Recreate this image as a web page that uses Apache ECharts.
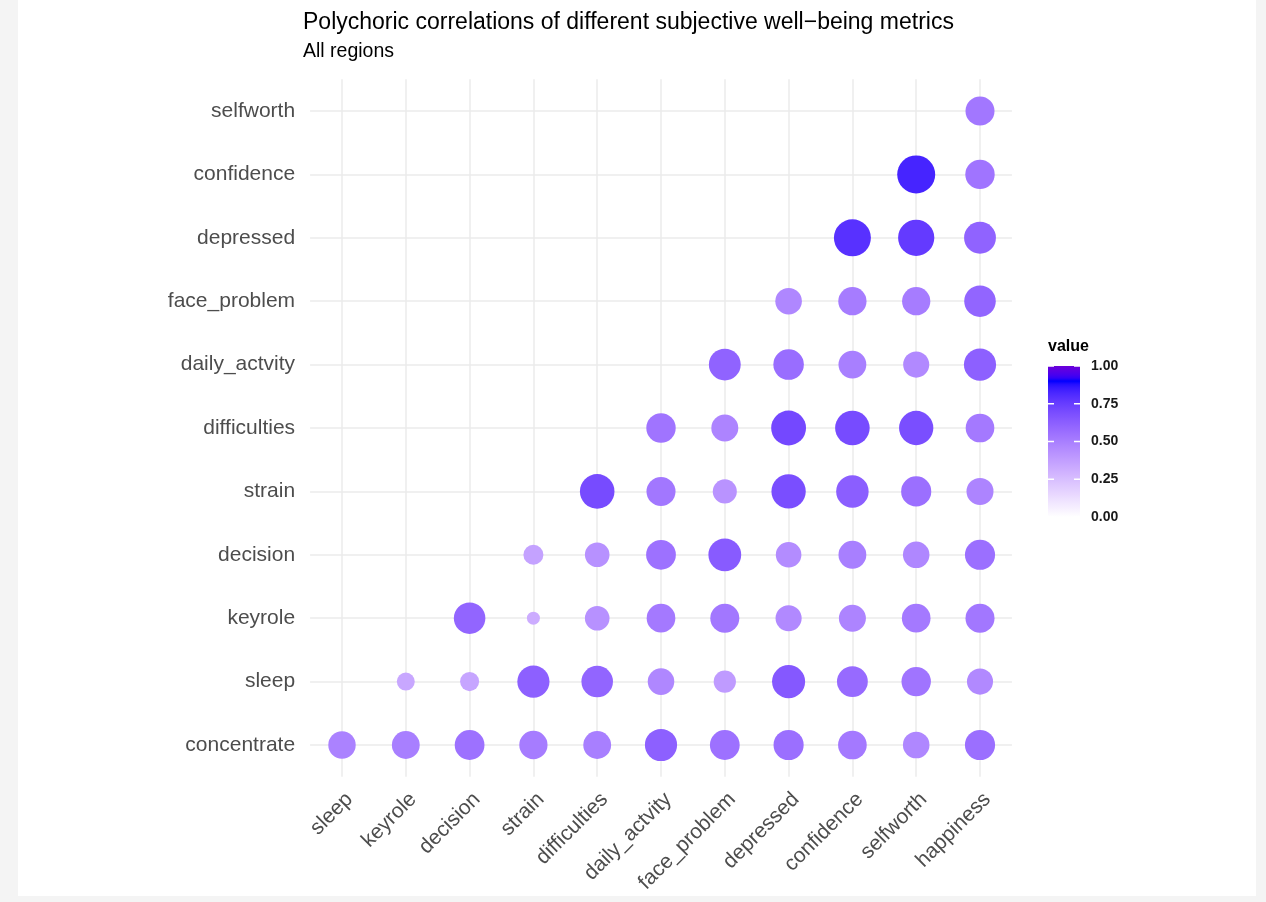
<!DOCTYPE html>
<html>
<head>
<meta charset="utf-8">
<title>Polychoric correlations</title>
<script src="https://cdn.jsdelivr.net/npm/echarts/dist/echarts.min.js"></script>
<style>
  html, body { margin: 0; padding: 0; background: #F4F4F4; }
  #frame { position: absolute; left: 18px; top: 0; width: 1238px; height: 896px; background: #FFFFFF; }
  #chart { position: absolute; left: 0; top: 0; width: 1266px; height: 902px; }
</style>
</head>
<body>
<div id="frame"></div>
<div id="chart"></div>
<script>
// Metric names along each axis (y listed bottom to top)
const xLabels = ['sleep', 'keyrole', 'decision', 'strain', 'difficulties', 'daily_actvity',
                 'face_problem', 'depressed', 'confidence', 'selfworth', 'happiness'];
const yLabels = ['concentrate', 'sleep', 'keyrole', 'decision', 'strain', 'difficulties',
                 'daily_actvity', 'face_problem', 'depressed', 'confidence', 'selfworth'];

// Correlations per row; row i starts at column i of xLabels
const rowConcentrate  = [0.49, 0.50, 0.55, 0.51, 0.50, 0.62, 0.55, 0.56, 0.52, 0.47, 0.56];
const rowSleep        = [0.34, 0.35, 0.62, 0.60, 0.47, 0.39, 0.65, 0.58, 0.54, 0.46];
const rowKeyrole      = [0.60, 0.32, 0.43, 0.52, 0.53, 0.46, 0.48, 0.52, 0.53];
const rowDecision     = [0.36, 0.43, 0.55, 0.64, 0.45, 0.50, 0.47, 0.56];
const rowStrain       = [0.70, 0.53, 0.42, 0.69, 0.63, 0.56, 0.48];
const rowDifficulties = [0.54, 0.48, 0.71, 0.70, 0.69, 0.52];
const rowDailyActvity = [0.61, 0.57, 0.50, 0.46, 0.62];
const rowFaceProblem  = [0.47, 0.51, 0.51, 0.60];
const rowDepressed    = [0.79, 0.76, 0.61];
const rowConfidence   = [0.83, 0.54];
const rowSelfworth    = [0.53];

const legendTicks = [0, 0.25, 0.5, 0.75, 1];

const rows = [rowConcentrate, rowSleep, rowKeyrole, rowDecision, rowStrain, rowDifficulties,
              rowDailyActvity, rowFaceProblem, rowDepressed, rowConfidence, rowSelfworth];

const points = [];
rows.forEach(function (vals, yi) {
  vals.forEach(function (v, k) { points.push([yi + k, yi, v]); });
});

// ---- colour scale: white -> blue -> purple, interpolated in CIE Lab ----
const colourAnchors = [[0, '#FFFFFF'], [0.9, '#0000FF'], [1, '#6A00D8']];

function toLin(c) { c /= 255; return c <= 0.04045 ? c / 12.92 : Math.pow((c + 0.055) / 1.055, 2.4); }
function toSrgb(c) {
  c = Math.min(1, Math.max(0, c));
  const s = c <= 0.0031308 ? 12.92 * c : 1.055 * Math.pow(c, 1 / 2.4) - 0.055;
  return Math.round(Math.min(1, Math.max(0, s)) * 255);
}
function hexToLab(hex) {
  const r = toLin(parseInt(hex.substr(1, 2), 16));
  const g = toLin(parseInt(hex.substr(3, 2), 16));
  const b = toLin(parseInt(hex.substr(5, 2), 16));
  const X = (0.4124 * r + 0.3576 * g + 0.1805 * b) / 0.95047;
  const Y = (0.2126 * r + 0.7152 * g + 0.0722 * b);
  const Z = (0.0193 * r + 0.1192 * g + 0.9505 * b) / 1.08883;
  const f = function (t) { return t > 0.008856 ? Math.cbrt(t) : 7.787 * t + 16 / 116; };
  const fx = f(X), fy = f(Y), fz = f(Z);
  return [116 * fy - 16, 500 * (fx - fy), 200 * (fy - fz)];
}
function labToHex(lab) {
  const fy = (lab[0] + 16) / 116, fx = fy + lab[1] / 500, fz = fy - lab[2] / 200;
  const inv = function (t) { return t > 0.206893 ? t * t * t : (t - 16 / 116) / 7.787; };
  const X = inv(fx) * 0.95047, Y = inv(fy), Z = inv(fz) * 1.08883;
  const r = 3.2406 * X - 1.5372 * Y - 0.4986 * Z;
  const g = -0.9689 * X + 1.8758 * Y + 0.0415 * Z;
  const b = 0.0557 * X - 0.2040 * Y + 1.0570 * Z;
  const h = function (c) { return ('0' + toSrgb(c).toString(16)).slice(-2); };
  return '#' + h(r) + h(g) + h(b);
}
function colourAt(v) {
  for (let i = 1; i < colourAnchors.length; i++) {
    const a = colourAnchors[i - 1], b = colourAnchors[i];
    if (v <= b[0] || i === colourAnchors.length - 1) {
      const t = Math.max(0, Math.min(1, (v - a[0]) / (b[0] - a[0])));
      const la = hexToLab(a[1]), lb = hexToLab(b[1]);
      return labToHex([0, 1, 2].map(function (k) { return la[k] + (lb[k] - la[k]) * t; }));
    }
  }
}
const steps = 50;
const rampColours = [];
for (let i = 0; i <= steps; i++) rampColours.push(colourAt(i / steps));

// ---- dot size: area grows with value across the data range ----
const allValues = points.map(function (p) { return p[2]; });
const vMin = Math.min.apply(null, allValues), vMax = Math.max.apply(null, allValues);
function dotSize(v) { return 13 + 25 * Math.sqrt((v - vMin) / (vMax - vMin)); }

const fontFam = 'Liberation Sans, Arial, sans-serif';

// ---- colourbar legend drawn beside the panel ----
const barX = 1048, barTop = 366, barW = 32, barH = 151;
const legendEls = [];
legendEls.push({
  type: 'text', left: barX, top: 339,
  style: { text: 'value', fontSize: 16, fontWeight: 'bold', fill: '#000', fontFamily: fontFam }
});
legendEls.push({
  type: 'rect', shape: { x: barX, y: barTop, width: barW, height: barH },
  style: {
    fill: new echarts.graphic.LinearGradient(0, 0, 0, 1,
      rampColours.map(function (c, i) { return { offset: 1 - i / steps, color: c }; }).reverse())
  }
});
legendTicks.forEach(function (t) {
  const y = barTop + barH * (1 - t);
  legendEls.push({ type: 'line', shape: { x1: barX, y1: y, x2: barX + 6, y2: y }, style: { stroke: '#FFFFFF', lineWidth: 1.5 } });
  legendEls.push({ type: 'line', shape: { x1: barX + barW - 6, y1: y, x2: barX + barW, y2: y }, style: { stroke: '#FFFFFF', lineWidth: 1.5 } });
  legendEls.push({
    type: 'text', x: barX + barW + 11, y: y,
    style: { text: t.toFixed(2), fontSize: 14, fontWeight: 'bold', fill: '#1A1A1A', verticalAlign: 'middle',
             fontFamily: fontFam }
  });
});

const chart = echarts.init(document.getElementById('chart'), null, { renderer: 'canvas' });
chart.setOption({
  backgroundColor: 'transparent',
  animation: false,
  title: {
    text: 'Polychoric correlations of different subjective well\u2212being metrics',
    subtext: 'All regions',
    left: 303, top: 11, padding: 0, itemGap: 8,
    textStyle: { fontSize: 23, fontWeight: 'normal', color: '#000', fontFamily: fontFam },
    subtextStyle: { fontSize: 19.5, color: '#000', fontFamily: fontFam }
  },
  grid: { left: 310.1, top: 79.3, width: 701.8, height: 697.4, containLabel: false },
  xAxis: {
    type: 'category', data: xLabels, boundaryGap: true,
    axisLine: { show: false }, axisTick: { show: false },
    splitLine: { show: true, interval: 0, alignWithLabel: true, lineStyle: { color: '#EBEBEB', width: 1.5 } },
    axisLabel: { interval: 0, rotate: 45, fontSize: 21, color: '#4D4D4D', margin: 12,
                 verticalAlign: 'top', fontFamily: fontFam }
  },
  yAxis: {
    type: 'category', data: yLabels, boundaryGap: true,
    axisLine: { show: false }, axisTick: { show: false },
    splitLine: { show: true, interval: 0, alignWithLabel: true, lineStyle: { color: '#EBEBEB', width: 1.5 } },
    axisLabel: { interval: 0, fontSize: 21, color: '#4D4D4D', margin: 15, fontFamily: fontFam }
  },
  visualMap: {
    show: false, type: 'continuous', min: 0, max: 1, dimension: 2, seriesIndex: 0,
    inRange: { color: rampColours }
  },
  series: [{
    type: 'scatter',
    data: points,
    symbol: 'circle',
    symbolSize: function (d) { return dotSize(d[2]); },
    itemStyle: { opacity: 1 },
    emphasis: { disabled: true }
  }],
  graphic: legendEls
});
</script>
</body>
</html>
